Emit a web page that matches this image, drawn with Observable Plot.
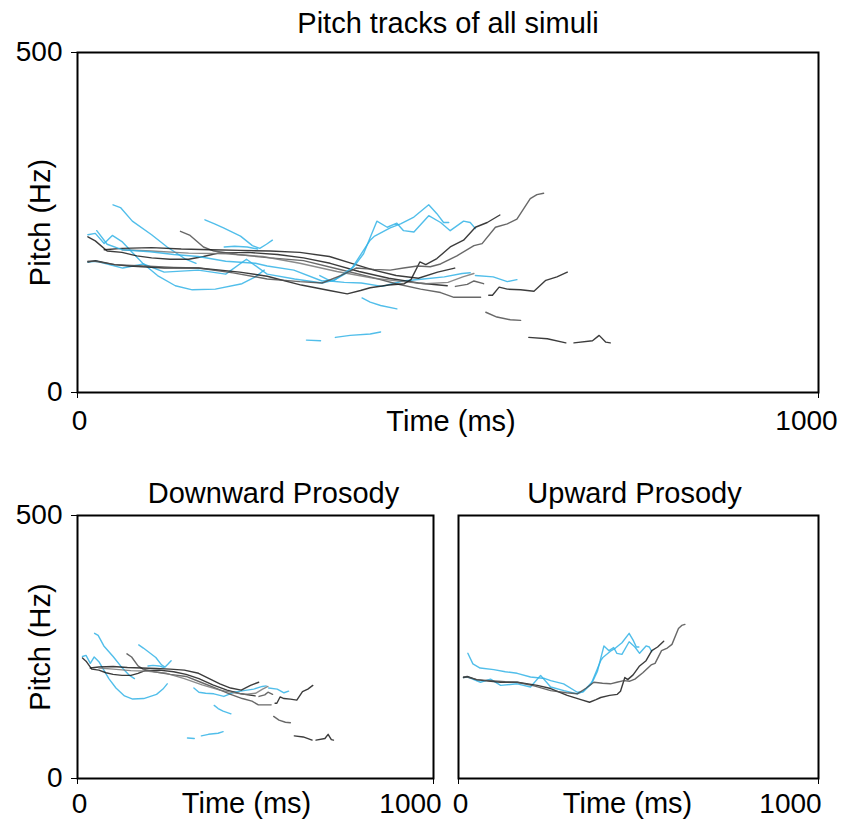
<!DOCTYPE html>
<html><head><meta charset="utf-8">
<script src="https://cdn.jsdelivr.net/npm/d3@7"></script>
<script src="https://cdn.jsdelivr.net/npm/@observablehq/plot@0.6"></script>
<style>
body{margin:0;background:#fff;}
#wrap{position:relative;width:850px;height:821px;overflow:hidden;background:#fff;}
#wrap svg{position:absolute;}
</style></head><body><div id="wrap"></div>
<script>
// ---- data: pitch tracks, [time ms, pitch Hz] ----
const DB1 = [[48,276],[58,272],[74,252],[100,232],[121,214],[146,196],[160,190]];
const DB2 = [[172,254],[185,248],[197,242],[220,230],[236,216],[246,212],[255,218],[263,224]];
const DB3 = [[198,214],[212,215],[229,214],[243,211]];
const DB4 = [[14,232],[24,234],[36,219],[47,231],[60,222],[74,206],[88,190],[108,172],[132,157],[155,151],[186,152],[222,160],[240,170],[252,180]];
const DB5 = [[327,172],[341,164],[360,162],[383,161],[411,156],[425,160],[439,164],[467,167],[495,170],[519,175],[530,176]];
const DB6 = [[537,172],[561,170],[580,163],[593,166]];
const DB7 = [[384,139],[395,133],[409,128],[431,123]];
const DB8 = [[309,77],[328,76]];
const DB9 = [[348,81],[368,84],[395,86],[409,89]];
const DK1 = [[14,229],[24,223],[40,208],[60,206],[80,201],[100,198],[125,196],[150,196],[170,200],[190,205],[230,206],[270,203],[305,198],[341,190],[380,178],[420,168],[460,161],[499,157]];
const DK2 = [[139,237],[152,231],[170,214],[184,208],[216,203],[260,198],[305,194],[350,182],[395,170],[430,160],[463,152],[490,147],[508,140],[530,140],[544,140]];
const DK3 = [[36,210],[60,212],[100,213],[140,211],[180,210],[220,209],[260,208],[300,206],[340,200],[370,190],[400,180],[430,172],[460,168],[486,177],[509,183]];
const DK4 = [[510,156],[526,159],[535,164],[548,160]];
const DK5 = [[555,143],[560,143],[569,155],[580,152],[598,151],[616,149],[632,165],[647,170],[661,177]];
const DK6 = [[551,118],[566,111],[584,107],[598,106]];
const DK7 = [[609,81],[634,79],[659,73]];
const DK8 = [[670,73],[695,76],[704,84],[713,74],[719,73]];
const DK9 = [[60,210],[100,208],[150,205],[200,204],[250,200],[300,190],[350,178],[400,168],[440,163],[470,160],[500,162],[520,170],[535,175]];
const UB1 = [[26,238],[40,218],[60,210],[98,207],[130,203],[163,200],[200,193],[240,190],[256,186],[292,180],[330,164],[346,165],[368,179],[395,224],[401,230],[422,242],[436,248],[454,258],[474,276],[485,263],[494,250],[501,250]];
const UB2 = [[14,192],[26,193],[61,183],[89,189],[117,177],[163,180],[200,174],[228,196],[256,174],[293,167],[330,161],[346,165],[373,185],[386,204],[404,252],[418,243],[431,249],[440,238],[454,236],[474,260],[490,250],[503,238],[521,252],[530,250],[537,241]];
const UK1 = [[14,192],[24,194],[50,188],[70,186],[117,183],[163,183],[219,177],[256,171],[302,158],[340,150],[364,145],[382,150],[395,154],[420,158],[441,160],[450,166],[462,192],[470,188],[485,197],[503,214],[521,224],[537,243],[553,250],[570,261]];
const UK2 = [[14,193],[24,193],[50,188],[89,186],[130,184],[163,183],[210,176],[256,167],[300,163],[330,161],[355,172],[376,183],[400,181],[422,180],[440,183],[459,186],[476,185],[490,189],[512,201],[535,216],[546,219],[564,243],[580,248],[593,255],[611,285],[620,291],[629,293]];

const trackNames  = ["DB1","DB2","DB3","DB4","DB5","DB6","DB7","DB8","DB9","DK1","DK2","DK3","DK4","DK5","DK6","DK7","DK8","DK9","UB1","UB2","UK1","UK2"];
const trackPoints = [DB1,DB2,DB3,DB4,DB5,DB6,DB7,DB8,DB9,DK1,DK2,DK3,DK4,DK5,DK6,DK7,DK8,DK9,UB1,UB2,UK1,UK2];
const trackGroups = ["down","down","down","down","down","down","down","down","down","down","down","down","down","down","down","down","down","down","up","up","up","up"];
const trackShades = ["b","b","b","b","b","b","b","b","b","k","g","k","g","k","g","k","k","m","b","b","k","g"];

const titles = {all: "Pitch tracks of all simuli", down: "Downward Prosody", up: "Upward Prosody"};
const xTicks = [0, 1000];
const yTicks = [0, 500];
const xLabel = "Time (ms)";
const yLabel = "Pitch (Hz)";

// ---- build ----
const rows = trackNames.flatMap((name, i) =>
  trackPoints[i].map(([t, p]) => ({id: name, group: trackGroups[i], shade: trackShades[i], t, p})));

const FONT = "'Liberation Sans', Arial, Helvetica, sans-serif";
const shadeDomain = ["b", "k", "g", "m"];
const shadeRange = ["#33b3e6", "#1a1a1a", "#4d4d4d", "#777777"];
const plain = d => String(d);

function panel(cfg) {
  const data = cfg.group ? rows.filter(d => d.group === cfg.group) : rows;
  const marks = [
    Plot.line(data, {x: "t", y: "p", z: "id", stroke: "shade", strokeWidth: 1.4, strokeOpacity: 0.85}),
    Plot.frame({stroke: "#000", strokeWidth: 2}),
    Plot.axisX({ticks: xTicks, tickSize: 6, tickFormat: () => "", label: null}),
    Plot.axisX({ticks: [xTicks[0]], tickSize: 0, tickPadding: cfg.xPad, dx: 2, label: null, fontSize: 28, tickFormat: plain}),
    Plot.axisX({ticks: [xTicks[1]], tickSize: 0, tickPadding: cfg.xPad, dx: cfg.kDx, label: null, fontSize: 28, tickFormat: plain}),
    Plot.text([titles[cfg.title]], {text: d => d, frameAnchor: "top", textAnchor: "middle", lineAnchor: "middle", dx: cfg.titleDx, dy: cfg.titleDy, fontSize: 29, fill: "#000"}),
    Plot.text([xLabel], {text: d => d, frameAnchor: "bottom", textAnchor: "middle", lineAnchor: "middle", dx: cfg.timeDx, dy: cfg.timeDy, fontSize: 29, fill: "#000"})
  ];
  if (cfg.yAxis) {
    marks.push(Plot.axisY({ticks: yTicks, tickSize: 6, tickPadding: 9, label: null, fontSize: 28, tickFormat: plain}));
    marks.push(Plot.text([yLabel], {text: d => d, frameAnchor: "left", textAnchor: "middle", lineAnchor: "middle", rotate: -90, dx: -37, fontSize: 29, fill: "#000"}));
  }
  const svg = Plot.plot({
    width: cfg.width, height: cfg.height,
    marginLeft: cfg.ml, marginRight: cfg.mr, marginTop: cfg.mt, marginBottom: cfg.mb,
    x: {domain: [0, 1000]},
    y: {domain: [0, 500], axis: cfg.yAxis ? undefined : null},
    color: {domain: shadeDomain, range: shadeRange},
    style: {fontFamily: FONT, fontSize: "28px", color: "#000", background: "transparent", overflow: "visible"},
    marks
  });
  svg.style.left = cfg.left + "px";
  svg.style.top = cfg.top + "px";
  document.getElementById("wrap").appendChild(svg);
}

panel({group: null, title: "all", left: 0, top: 0, width: 850, height: 445, ml: 77, mr: 32, mt: 52, mb: 53,
  yAxis: true, xPad: 18, kDx: -12, titleDx: 0, titleDy: -29, timeDx: 3, timeDy: 29});
panel({group: "down", title: "down", left: 0, top: 460, width: 445, height: 361, ml: 77, mr: 12, mt: 55, mb: 43,
  yAxis: true, xPad: 15, kDx: -23, titleDx: 18, titleDy: -22, timeDx: -9, timeDy: 25});
panel({group: "up", title: "up", left: 445, top: 460, width: 405, height: 361, ml: 13, mr: 32, mt: 55, mb: 43,
  yAxis: false, xPad: 15, kDx: -28, titleDx: -4, titleDy: -22, timeDx: -11, timeDy: 25});
</script></body></html>
